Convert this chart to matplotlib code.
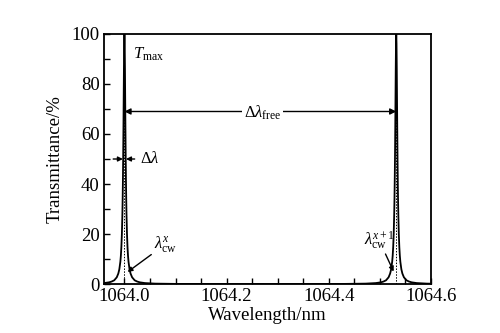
import matplotlib
matplotlib.use('Agg')
import matplotlib.pyplot as plt
import numpy as np

plt.rcParams['font.family'] = ['Liberation Serif', 'DejaVu Serif']
plt.rcParams['mathtext.fontset'] = 'custom'
plt.rcParams['mathtext.rm'] = 'Liberation Serif'
plt.rcParams['mathtext.it'] = 'Liberation Serif:italic'

# Peak centres of two neighbouring transmission orders (nm)
peak_centres = [1064.0, 1064.532]

# One transmission peak, read as offset from its centre (nm) vs. T (%)
profile_offset = [-0.27, -0.1, -0.06, -0.04, -0.03, -0.025, -0.02, -0.015, -0.012,
                  -0.01, -0.008, -0.007, -0.006, -0.005, -0.004, -0.0035, -0.003,
                  -0.0025, -0.002, -0.0015, -0.001, -0.0005, 0.0,
                  0.0005, 0.001, 0.0015, 0.002, 0.0025, 0.003, 0.0035, 0.004,
                  0.005, 0.006, 0.007, 0.008, 0.01, 0.012, 0.015, 0.02, 0.025,
                  0.03, 0.04, 0.06, 0.1, 0.27]
profile_T = [0.01, 0.06, 0.17, 0.39, 0.69, 1.0, 1.5, 2.7, 4.2,
             5.9, 8.9, 11.3, 14.8, 20.0, 28.1, 33.8, 41.0,
             50.0, 61.0, 73.5, 86.2, 96.2, 100.0,
             96.2, 86.2, 73.5, 61.0, 50.0, 41.0, 33.8, 28.1,
             20.0, 14.8, 11.3, 8.9, 5.9, 4.2, 2.7, 1.5, 1.0,
             0.69, 0.39, 0.17, 0.06, 0.01]

x_ticks = [1064.0, 1064.2, 1064.4, 1064.6]
y_ticks = [0, 20, 40, 60, 80, 100]

fig = plt.figure(figsize=(5, 3.33), dpi=100)
ax = fig.add_axes([0.208, 0.147, 0.654, 0.751])

# Transmission curve built from both peaks
wl = []
tr = []
for c in peak_centres:
    wl += [c + d for d in profile_offset]
    tr += profile_T
ax.plot(wl, tr, color='black', lw=1.3, zorder=3)

# Dotted centre lines of each peak
for c in peak_centres:
    ax.plot([c, c], [0, 100], color='black', lw=0.7, ls=(0, (1.5, 1.5)), zorder=4)

ax.set_xlim(1063.96, 1064.6)
ax.set_ylim(0, 100)
ax.set_xticks(x_ticks)
ax.set_xticklabels([f"{v:.1f}" for v in x_ticks])
ax.set_xticks(np.arange(1064.0, 1064.6, 0.05), minor=True)
ax.set_yticks(y_ticks)
ax.set_yticks(range(10, 100, 20), minor=True)
ax.tick_params(which='both', direction='in', labelsize=13.5, width=1.0, pad=3)
ax.tick_params(which='major', length=4)
ax.tick_params(which='minor', length=4)
for s in ax.spines.values():
    s.set_linewidth(1.3)

ax.set_xlabel("Wavelength/nm", fontsize=13.5, labelpad=1)
ax.set_ylabel("Transmittance/%", fontsize=13.5, labelpad=6)

# Annotations
ax.text(1064.017, 92, r"$T_{\rm max}$", fontsize=12, va='center', ha='left')

ax.annotate("", xy=(peak_centres[0], 69), xytext=(peak_centres[1], 69),
            arrowprops=dict(arrowstyle='<|-|>', color='black', lw=1.0,
                            mutation_scale=9, shrinkA=0, shrinkB=0))
ax.text(1064.27, 68.5, r"$\Delta\lambda_{\rm free}$", fontsize=12, ha='center',
        va='center', bbox=dict(fc='white', ec='none', pad=1.5), zorder=5)

ax.annotate("", xy=(peak_centres[0] - 0.003, 50), xytext=(1063.978, 50),
            arrowprops=dict(arrowstyle='-|>', color='black', lw=1.0,
                            mutation_scale=7, shrinkA=0, shrinkB=0))
ax.annotate("", xy=(peak_centres[0] + 0.003, 50), xytext=(1064.02, 50),
            arrowprops=dict(arrowstyle='-|>', color='black', lw=1.0,
                            mutation_scale=7, shrinkA=0, shrinkB=0))
ax.text(1064.031, 50, r"$\Delta\lambda$", fontsize=12, va='center', ha='left')

ax.annotate(r"$\lambda_{\rm cw}^{x}$", xy=(peak_centres[0] + 0.004, 4.5),
            xytext=(1064.058, 16), fontsize=12, ha='left', va='center',
            arrowprops=dict(arrowstyle='-|>', color='black', lw=1.0,
                            mutation_scale=7, shrinkA=0, shrinkB=1))
ax.annotate(r"$\lambda_{\rm cw}^{x+1}$", xy=(peak_centres[1] - 0.004, 4.5),
            xytext=(1064.468, 17.5), fontsize=12, ha='left', va='center',
            arrowprops=dict(arrowstyle='-|>', color='black', lw=1.0,
                            mutation_scale=7, shrinkA=0, shrinkB=1))

fig.savefig("out.png", dpi=100)
